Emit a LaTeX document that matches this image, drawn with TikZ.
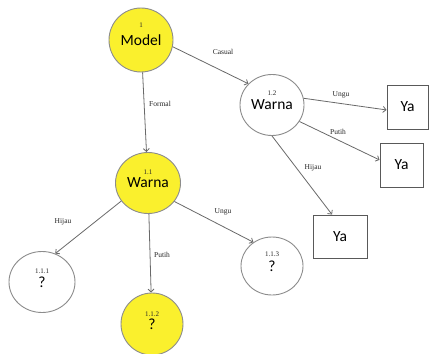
\documentclass[tikz,border=0pt]{standalone}
\usepackage{fontspec}
\usepackage{xcolor}
\setmainfont{Liberation Serif}
\newfontfamily\calibri{Carlito}
\usetikzlibrary{shapes.geometric,arrows.meta}
\definecolor{nodeyellow}{RGB}{250,240,45}
\definecolor{linegray}{RGB}{105,105,105}
\newcommand{\nm}[1]{{\calibri\fontsize{15.5}{16}\selectfont #1}}

\begin{document}
\begin{tikzpicture}[x=1pt,y=-1pt]
  \tikzset{bubble/.style={ellipse,draw=gray!90,line width=0.9pt,inner sep=0pt,text=black},
           yes/.style={bubble,fill=nodeyellow},
           leaf/.style={rectangle,draw=black!65,line width=0.9pt,inner sep=0pt,text=black},
           branch/.style={draw=linegray,line width=0.8pt,-{Straight Barb[length=3pt,width=6pt]}},
           cond/.style={font=\fontsize{7.5}{8}\selectfont,text=black!85,inner sep=0pt},
           tag/.style={font=\fontsize{7}{7}\selectfont,text=black!85,inner sep=0pt}}
  \useasboundingbox (0,0) rectangle (430,353);
  \fill[white] (0,0) rectangle (430,353);
  \node[yes,minimum width=64pt,minimum height=64pt] (Model) at (141,40) {\nm{Model}};
  \node[yes,minimum width=65pt,minimum height=61pt] (W11) at (148,183) {\nm{Warna}};
  \node[bubble,minimum width=64pt,minimum height=61pt] (W12) at (272,105) {\nm{Warna}};
  \node[bubble,minimum width=66pt,minimum height=61pt] (Q111) at (42,282) {\nm{?}};
  \node[yes,minimum width=62pt,minimum height=62pt] (Q112) at (152,324) {\nm{?}};
  \node[bubble,minimum width=62pt,minimum height=58pt] (Q113) at (272,266) {\nm{?}};
  \node[leaf,minimum width=41pt,minimum height=44pt] (Ya1) at (407.5,107) {\nm{Ya}};
  \node[leaf,minimum width=43pt,minimum height=44pt] (Ya2) at (401.5,165) {\nm{Ya}};
  \node[leaf,minimum width=54pt,minimum height=43pt] (Ya3) at (340,236.5) {\nm{Ya}};
  % numbers
  \node[tag] (nModel) at (141,25) {1};
  \node[tag] (nW11) at (148,172) {1.1};
  \node[tag] (nW12) at (272,93) {1.2};
  \node[tag] (nQ111) at (42,271) {1.1.1};
  \node[tag] (nQ112) at (152,314) {1.1.2};
  \node[tag] (nQ113) at (272,254) {1.1.3};
  % branches
  \draw[branch] (Model.-12) -- (W12.138);
  \draw[branch] (Model) -- (W11);
  \draw[branch] (W12.12) -- (Ya1.188);
  \draw[branch] (W12.-31) -- (Ya2.167);
  \draw[branch] (W12.south) -- (Ya3.110);
  \draw[branch] (W11.214) -- (Q111.65);
  \draw[branch] (W11) -- (Q112);
  \draw[branch] (W11.-35) -- (Q113.128);
  % conditions
  \node[cond] (cCasual) at (223,52) {Casual};
  \node[cond] (cFormal) at (160,104) {Formal};
  \node[cond] (cUngu2) at (341,95) {Ungu};
  \node[cond] (cPutih2) at (338,132) {Putih};
  \node[cond] (cHijau2) at (313,168) {Hijau};
  \node[cond] (cHijau1) at (63,222) {Hijau};
  \node[cond] (cPutih1) at (162,255) {Putih};
  \node[cond] (cUngu1) at (223,212) {Ungu};
\end{tikzpicture}
\end{document}
